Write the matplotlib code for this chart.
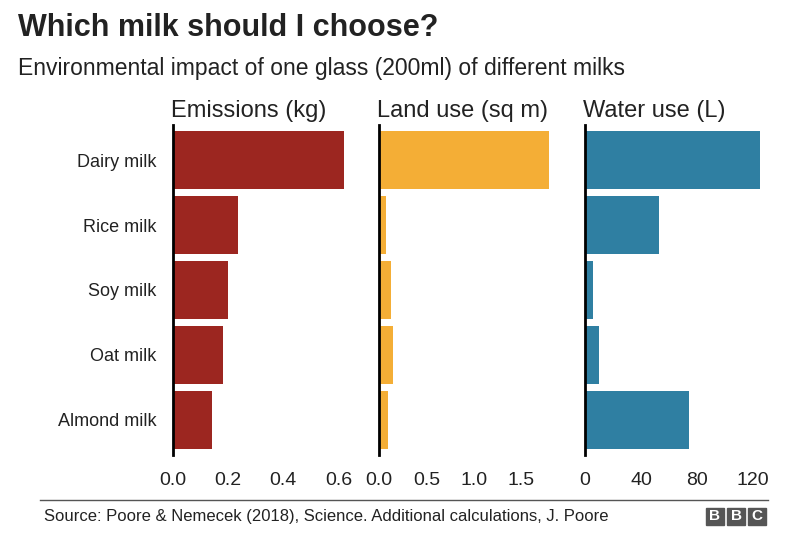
import matplotlib.pyplot as plt
from matplotlib.patches import Rectangle

milks = ["Dairy milk", "Rice milk", "Soy milk", "Oat milk", "Almond milk"]
emissions = [0.62, 0.235, 0.20, 0.18, 0.14]
land_use = [1.79, 0.07, 0.13, 0.15, 0.10]
water_use = [125, 53, 6, 10, 74]

panels = [
    ("Emissions (kg)", emissions, "#9c2620", (0, 0.66), [0, 0.2, 0.4, 0.6], ["0.0", "0.2", "0.4", "0.6"]),
    ("Land use (sq m)", land_use, "#f4ae36", (0, 1.92), [0, 0.5, 1.0, 1.5], ["0.0", "0.5", "1.0", "1.5"]),
    ("Water use (L)", water_use, "#2f7fa2", (0, 130), [0, 40, 80, 120], ["0", "40", "80", "120"]),
]

W, H = 800, 541
fig = plt.figure(figsize=(8, 5.41), dpi=100)
plt.rcParams['font.family'] = ['Liberation Sans', 'DejaVu Sans']

lefts = [173, 379, 585]
width = 182
top, bottom = 125, 455

for (title, vals, color, xlim, ticks, tlabels), left in zip(panels, lefts):
    ax = fig.add_axes([left / W, 1 - bottom / H, width / W, (bottom - top) / H])
    ax.barh(range(len(vals)), vals, height=0.9, color=color)
    ax.set_ylim(4.54, -0.54)
    ax.set_xlim(*xlim)
    ax.set_xticks(ticks)
    ax.set_xticklabels(tlabels, fontsize=14, color="#222222")
    ax.tick_params(axis="x", length=0, pad=12)
    ax.set_yticks(range(len(vals)))
    if left == lefts[0]:
        ax.set_yticklabels(milks, fontsize=13, color="#222222")
        ax.tick_params(axis="y", length=0, pad=12)
    else:
        ax.set_yticklabels([])
        ax.tick_params(axis="y", length=0)
    for s in ["top", "right", "bottom"]:
        ax.spines[s].set_visible(False)
    ax.spines["left"].set_linewidth(2)
    ax.set_title(title, loc="left", fontsize=17, color="#222222", pad=6, x=-0.01)

fig.text(18 / W, 1 - 28 / H, "Which milk should I choose?", fontsize=22, weight="bold", color="#222222", va="center")
fig.text(18 / W, 1 - 68 / H, "Environmental impact of one glass (200ml) of different milks", fontsize=16.5, color="#222222", va="center")

fig.add_artist(plt.Line2D([40 / W, 768 / W], [1 - 500 / H] * 2, color="#555555", lw=1))
fig.text(44 / W, 1 - 517 / H, "Source: Poore & Nemecek (2018), Science. Additional calculations, J. Poore", fontsize=12, color="#222222", va="center")
for i, ch in enumerate("BBC"):
    x0 = 706 + i * 21
    fig.add_artist(Rectangle((x0 / W, 1 - 525 / H), 18 / W, 17 / H, color="#555555", transform=fig.transFigure))
    fig.text((x0 + 9) / W, 1 - 516.5 / H, ch, color="white", fontsize=11, weight="bold", ha="center", va="center")

fig.savefig("out.png", dpi=100)
